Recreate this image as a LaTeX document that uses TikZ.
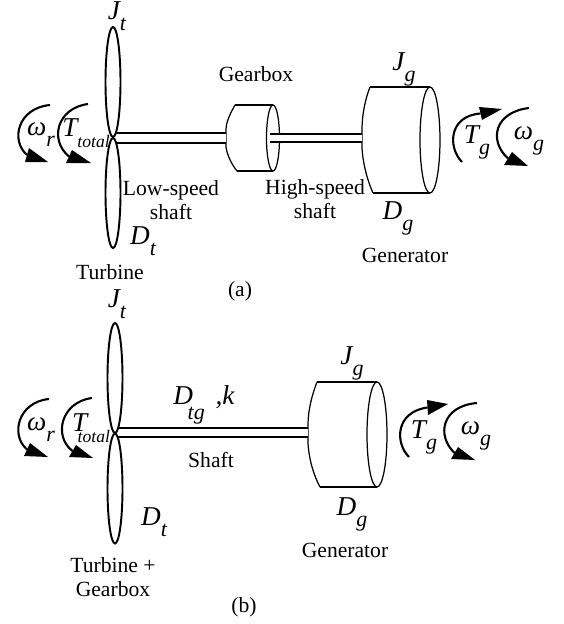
\documentclass[tikz,border=0pt]{standalone}
\usepackage{fontspec}
\setmainfont{Liberation Serif}
\usetikzlibrary{positioning,arrows.meta,calc,shapes.geometric}
\newcommand{\Sym}[3][12.5]{{\fontsize{15.5}{17}\selectfont\itshape #2\raisebox{-.4em}{\fontsize{#1}{14}\selectfont #3}}}
\newcommand{\Spin}[6]{%
  \draw[spin] (#1) .. controls (#2) and (#3) .. ($(#4)!.5!(#5)$);
  \fill (#4) -- (#5) -- (#6) -- cycle;}
\tikzset{
  lbl/.style={font=\fontsize{12.3}{13.6}\selectfont,align=center,inner sep=0pt},
  sym/.style={inner sep=0pt},
  blade/.style={draw,ellipse,line width=1.1pt,inner sep=0pt,minimum width=3mm,minimum height=22mm},
  spin/.style={line width=1.2pt},
  shaft/.style={line width=1.2pt,double,double distance=#1},
  shaft/.default=3.6pt,
  body/.style={line width=.7pt}
}
\begin{document}
\begin{tikzpicture}[x=0.2mm,y=-0.2mm]
  \useasboundingbox (0,0) rectangle (563,624);
  \coordinate (huba) at (116,138);
  \coordinate (gbina) at (226,138);
  \coordinate (gbouta) at (270,138);
  \coordinate (genina) at (362,138);
  \draw[body] (235,105) -- (273,105);
  \draw[body] (237,171) -- (273,171);
  \draw[body] (235,105) .. controls (230,114) and (226,122) .. (226,130) -- (226,147) .. controls (227,155) and (232,165) .. (237,171);
  \node[draw,ellipse,body,inner sep=0pt,minimum width=2.6mm,minimum height=13.2mm] (gboxa) at (273,138) {};
  \draw[body] (370,87) -- (430,87);
  \draw[body] (373,193) -- (430,193);
  \draw[body] (370,87) .. controls (365,100) and (362,115) .. (362,130) -- (362,148) .. controls (363,165) and (368,182) .. (373,193);
  \node[draw,ellipse,body,inner sep=0pt,minimum width=4mm,minimum height=21.2mm] (gena) at (430,140) {};
  \draw[shaft=4.4pt] (huba) -- (gbina);
  \draw[shaft=3.3pt] (gbouta) -- (genina);
  \node[blade] (blatopa) at (113,82) {};
  \node[blade] (blabota) at (113,193) {};
  \Spin{50,105}{18,108}{10,140}{29,148}{25,162}{48,162}
  \Spin{88,104}{57,108}{49,140}{72,150}{66,163}{91,163}
  \Spin{462,162}{448,148}{448,116}{479,107}{482,120}{502,109}
  \Spin{529,108}{495,112}{488,140}{512,152}{504,165}{528,166}
  \node[sym] (jta) at (117,16) {\Sym{J}{t}};
  \node[sym] (dta) at (143,241) {\Sym{D}{t}};
  \node[sym] (wra) at (41,135) {\Sym{ω}{r}};
  \node[sym] (tta) at (86,133) {\Sym[10]{T}{total}};
  \node[sym] (jga) at (404,69) {\Sym{J}{g}};
  \node[sym] (dga) at (398,218) {\Sym{D}{g}};
  \node[sym] (tga) at (477,142) {\Sym{T}{g}};
  \node[sym] (wga) at (529,141) {\Sym{ω}{g}};
  \node[lbl] (gearla) at (256,74) {Gearbox};
  \node[lbl] (lowa) at (171,200) {Low-speed\\shaft};
  \node[lbl] (higha) at (315,199) {High-speed\\shaft};
  \node[lbl] (turba) at (110,272) {Turbine};
  \node[lbl] (genla) at (405,255) {Generator};
  \node[lbl] (capa) at (240,291) {(a)};
  \coordinate (hubb) at (118,432.5);
  \coordinate (geninb) at (308,432.5);
  \draw[body] (317,382) -- (377,382);
  \draw[body] (320,487) -- (377,487);
  \draw[body] (317,382) .. controls (312,395) and (308,410) .. (308,425) -- (308,443) .. controls (309,460) and (314,476) .. (320,487);
  \node[draw,ellipse,body,inner sep=0pt,minimum width=4mm,minimum height=21mm] (genb) at (377,434.5) {};
  \draw[shaft=3.9pt] (hubb) -- (geninb);
  \node[blade] (blatopb) at (115,378) {};
  \node[blade] (blabotb) at (115,488.5) {};
  \Spin{49,399}{18,402}{10,435}{30,443}{24,456}{48,457}
  \Spin{92,398}{61,402}{53,436}{76,445}{69,457}{93,458}
  \Spin{409,457}{395,443}{395,412}{427,400}{428,415}{448,404}
  \Spin{477,403}{442,406}{436,435}{458,447}{451,459}{475,460}
  \node[sym] (jtb) at (117,304) {\Sym{J}{t}};
  \node[sym] (dtb) at (154,522) {\Sym{D}{t}};
  \node[sym] (wrb) at (41,430) {\Sym{ω}{r}};
  \node[sym] (ttb) at (91,428) {\Sym[10]{T\kern-.35em}{total}};
  \node[sym] (dtgb) at (204,405) {{\fontsize{15.5}{17}\selectfont\itshape D\kern-.2em\raisebox{-.55em}{\fontsize{12.5}{14}\selectfont tg}\hspace{.4em},k}};
  \node[sym] (jgb) at (352,363) {\Sym{J}{g}};
  \node[sym] (dgb) at (352,514) {\Sym{D}{g}};
  \node[sym] (tgb) at (424,437) {\Sym{T}{g}};
  \node[sym] (wgb) at (476,436) {\Sym{ω}{g}};
  \node[lbl] (shaftb) at (211,460) {Shaft};
  \node[lbl] (turbb) at (113,577) {Turbine +\\Gearbox};
  \node[lbl] (genlb) at (345,550) {Generator};
  \node[lbl] (capb) at (244,607) {(b)};
\end{tikzpicture}
\end{document}
